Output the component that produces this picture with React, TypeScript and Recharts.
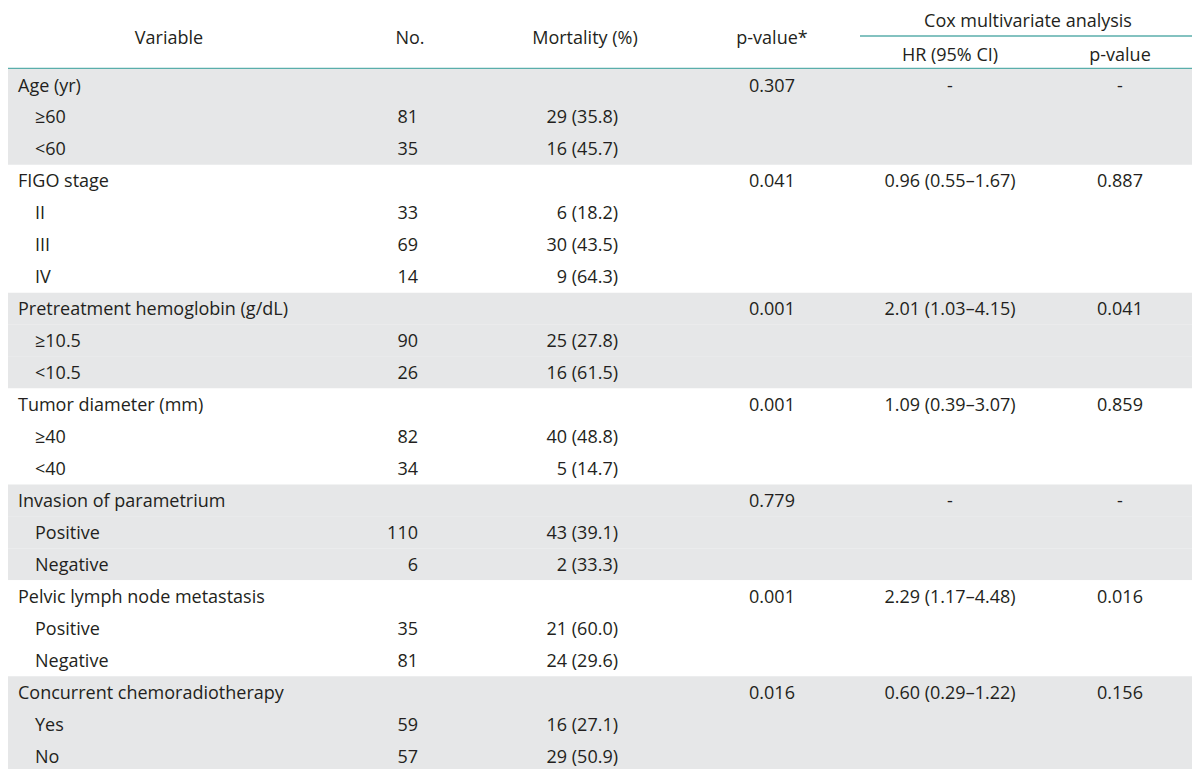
import React from 'react';
import { Bar, BarChart, Cell, Customized, LabelList, XAxis, YAxis } from 'recharts';

const TEAL = '#5aaeab';
const SHADE = '#e6e7e8';
const INK = '#231f20';
const FONT = '"Open Sans", "Noto Sans", sans-serif';
const FS = 18;

const GROUP_NAMES = [
  'Age (yr)',
  'FIGO stage',
  'Pretreatment hemoglobin (g/dL)',
  'Tumor diameter (mm)',
  'Invasion of parametrium',
  'Pelvic lymph node metastasis',
  'Concurrent chemoradiotherapy',
];
const GROUP_P = ['0.307', '0.041', '0.001', '0.001', '0.779', '0.001', '0.016'];
const GROUP_HR = ['-', '0.96 (0.55–1.67)', '2.01 (1.03–4.15)', '1.09 (0.39–3.07)', '-', '2.29 (1.17–4.48)', '0.60 (0.29–1.22)'];
const GROUP_COX_P = ['-', '0.887', '0.041', '0.859', '-', '0.016', '0.156'];
const SUB_LABELS = [
  ['≥60', '<60'],
  ['II', 'III', 'IV'],
  ['≥10.5', '<10.5'],
  ['≥40', '<40'],
  ['Positive', 'Negative'],
  ['Positive', 'Negative'],
  ['Yes', 'No'],
];
const SUB_NO = [
  ['81', '35'],
  ['33', '69', '14'],
  ['90', '26'],
  ['82', '34'],
  ['110', '6'],
  ['35', '81'],
  ['59', '57'],
];
const SUB_MORTALITY = [
  ['29 (35.8)', '16 (45.7)'],
  ['6 (18.2)', '30 (43.5)', '9 (64.3)'],
  ['25 (27.8)', '16 (61.5)'],
  ['40 (48.8)', '5 (14.7)'],
  ['43 (39.1)', '2 (33.3)'],
  ['21 (60.0)', '24 (29.6)'],
  ['16 (27.1)', '29 (50.9)'],
];

type Row = {
  key: string;
  band: number;
  shaded: boolean;
  indent: boolean;
  label: string;
  no: string;
  mortality: string;
  p: string;
  hr: string;
  coxP: string;
};

const rows: Row[] = [];
GROUP_NAMES.forEach((name, g) => {
  const shaded = g % 2 === 0;
  rows.push({
    key: `g${g}`,
    band: 1,
    shaded,
    indent: false,
    label: name,
    no: '',
    mortality: '',
    p: GROUP_P[g],
    hr: GROUP_HR[g],
    coxP: GROUP_COX_P[g],
  });
  SUB_LABELS[g].forEach((sub, s) => {
    rows.push({
      key: `g${g}s${s}`,
      band: 1,
      shaded,
      indent: true,
      label: sub,
      no: SUB_NO[g][s],
      mortality: SUB_MORTALITY[g][s],
      p: '',
      hr: '',
      coxP: '',
    });
  });
});

const textStyle = { fontFamily: FONT, fontSize: FS, fill: INK };

// LabelList renderer: fixed column x, vertical centre from the row band
function cellText(x: number, anchor: 'start' | 'middle' | 'end', indentX?: number) {
  return (props: any) => {
    const { y, height, value, index } = props;
    if (!value) return null;
    const row = rows[index];
    const tx = indentX != null && row?.indent ? indentX : x;
    return (
      <text x={tx} y={Number(y) + Number(height) / 2 + 6.5} textAnchor={anchor} style={textStyle}>
        {value}
      </text>
    );
  };
}

const Header = () => (
  <g>
    <line x1={4} x2={1198} y1={4} y2={4} stroke={TEAL} strokeWidth={2} />
    <line x1={860} x2={1198} y1={36} y2={36} stroke={TEAL} strokeWidth={1.5} />
    <line x1={4} x2={1198} y1={68.5} y2={68.5} stroke={TEAL} strokeWidth={1.5} />
    <line x1={4} x2={1198} y1={773} y2={773} stroke={TEAL} strokeWidth={2} />
    <text x={169} y={43.5} textAnchor="middle" style={textStyle}>Variable</text>
    <text x={410} y={43.5} textAnchor="middle" style={textStyle}>No.</text>
    <text x={585} y={43.5} textAnchor="middle" style={textStyle}>Mortality (%)</text>
    <text x={772} y={43.5} textAnchor="middle" style={textStyle}>p-value*</text>
    <text x={1028} y={27} textAnchor="middle" style={textStyle}>Cox multivariate analysis</text>
    <text x={950} y={60.5} textAnchor="middle" style={textStyle}>HR (95% CI)</text>
    <text x={1120} y={60.5} textAnchor="middle" style={textStyle}>p-value</text>
  </g>
);

export default function App() {
  return (
    <div style={{ width: 1200, height: 777, margin: -8, background: '#fff' }}>
      <BarChart
        width={1200}
        height={777}
        data={rows}
        layout="vertical"
        margin={{ top: 69, right: 2, bottom: 5, left: 4 }}
        barCategoryGap={0}
        barGap={0}
      >
        <XAxis type="number" domain={[0, 1]} hide />
        <YAxis type="category" dataKey="key" hide />
        <Bar dataKey="band" isAnimationActive={false}>
          {rows.map((r) => (
            <Cell key={r.key} fill={r.shaded ? SHADE : '#ffffff'} />
          ))}
          <LabelList dataKey="label" content={cellText(18, 'start', 35)} />
          <LabelList dataKey="no" content={cellText(418, 'end')} />
          <LabelList dataKey="mortality" content={cellText(618, 'end')} />
          <LabelList dataKey="p" content={cellText(772, 'middle')} />
          <LabelList dataKey="hr" content={cellText(950, 'middle')} />
          <LabelList dataKey="coxP" content={cellText(1120, 'middle')} />
        </Bar>
        <Customized component={<Header />} />
      </BarChart>
    </div>
  );
}
